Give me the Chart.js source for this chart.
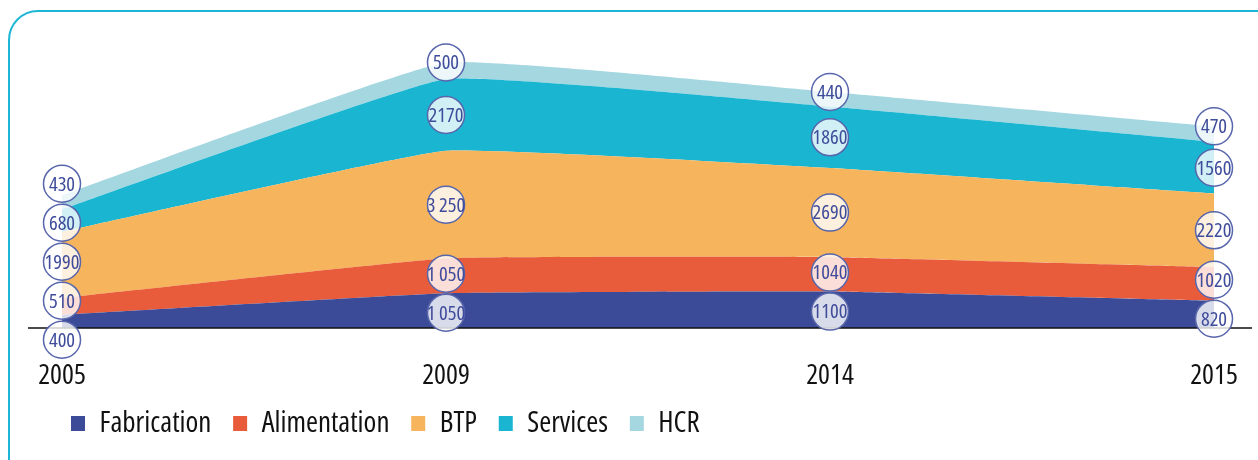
<!DOCTYPE html>
<html>
<head>
<meta charset="utf-8">
<script src="https://cdn.jsdelivr.net/npm/chart.js@4.4.1/dist/chart.umd.min.js"></script>
<style>
  html, body { margin: 0; padding: 0; background: #fff; overflow: hidden; }
  .frame {
    position: absolute;
    left: 8px; top: 10px;
    width: 1300px; height: 520px;
    border: 2px solid #1eb6d6;
    border-radius: 30px;
  }
  #chart { position: absolute; left: 0; top: 0; }
</style>
</head>
<body>
<div class="frame"></div>
<canvas id="chart" width="1258" height="460"></canvas>
<script>
const years = ['2005', '2009', '2014', '2015'];

const fabrication  = [400, 1050, 1100, 820];
const alimentation = [510, 1050, 1040, 1020];
const btp          = [1990, 3250, 2690, 2220];
const services     = [680, 2170, 1860, 1560];
const hcr          = [430, 500, 440, 470];

// labels as printed in the circles
const fabricationText  = ['400', '1\u2009050', '1100', '820'];
const alimentationText = ['510', '1\u2009050', '1040', '1020'];
const btpText          = ['1990', '3\u2009250', '2690', '2220'];
const servicesText     = ['680', '2170', '1860', '1560'];
const hcrText          = ['430', '500', '440', '470'];

// condensed Open Sans (stretch keyword rides in the weight slot of the font string)
const FONT = "'Open Sans', sans-serif";
const STRETCH = 'condensed';

const series = [
  { label: 'Fabrication',  data: fabrication,  text: fabricationText,  color: '#3c4b98' },
  { label: 'Alimentation', data: alimentation, text: alimentationText, color: '#e85c3b' },
  { label: 'BTP',          data: btp,          text: btpText,          color: '#f6b45c' },
  { label: 'Services',     data: services,     text: servicesText,     color: '#19b5d1' },
  { label: 'HCR',          data: hcr,          text: hcrText,          color: '#a5d7e1' }
];

// circled value labels, spread vertically so they don't overlap
const bubbleLabels = {
  id: 'bubbleLabels',
  afterDatasetsDraw(chart) {
    const ctx = chart.ctx;
    const y = chart.scales.y;
    const r = 18.5;
    const gap = 39;

    years.forEach((yr, i) => {
      const xPx = chart.scales.x.getPixelForValue(i);
      let acc = 0;
      const pos = series.map((s, k) => {
        const lo = acc;
        acc += s.data[i];
        // top layer label sits on the upper edge
        if (k === series.length - 1) return y.getPixelForValue(acc);
        return y.getPixelForValue((lo + acc) / 2);
      });

      for (let it = 0; it < 100; it++) {
        for (let k = 0; k < pos.length - 1; k++) {
          const d = pos[k] - pos[k + 1];
          if (d < gap) {
            const push = (gap - d) / 2;
            pos[k] += push;
            pos[k + 1] -= push;
          }
        }
      }

      series.forEach((s, k) => {
        ctx.save();
        ctx.beginPath();
        ctx.arc(xPx, pos[k], r, 0, Math.PI * 2);
        ctx.fillStyle = 'rgba(255,255,255,0.8)';
        ctx.fill();
        ctx.lineWidth = 1.5;
        ctx.strokeStyle = '#5866ac';
        ctx.stroke();
        ctx.fillStyle = '#3f4c9b';
        ctx.font = STRETCH + ' 20.5px ' + FONT;
        ctx.textAlign = 'center';
        ctx.textBaseline = 'middle';
        ctx.fillText(s.text[i], xPx, pos[k] + 1);
        ctx.restore();
      });
    });
  }
};

// black baseline running a bit past both ends
const baseline = {
  id: 'baseline',
  afterDatasetsDraw(chart) {
    const ctx = chart.ctx;
    const { left, right } = chart.chartArea;
    const yPx = chart.scales.y.getPixelForValue(0);
    ctx.save();
    ctx.beginPath();
    ctx.moveTo(left - 34, yPx);
    ctx.lineTo(right + 38, yPx);
    ctx.lineWidth = 1.5;
    ctx.strokeStyle = '#111';
    ctx.stroke();
    ctx.restore();
  }
};

const TICK_PAD = 31;

new Chart(document.getElementById('chart'), {
  type: 'line',
  data: {
    labels: years,
    datasets: series.map((s, k) => ({
      label: s.label,
      data: s.data,
      backgroundColor: s.color,
      borderColor: s.color,
      borderWidth: 0,
      pointRadius: 0,
      tension: 0.1,
      fill: k === 0 ? 'origin' : '-1'
    }))
  },
  options: {
    responsive: false,
    animation: false,
    layout: {
      padding: { left: 60, right: 44, top: 30, bottom: 12 }
    },
    scales: {
      x: {
        grid: { display: false, drawTicks: false },
        border: { display: false },
        afterFit(scale) {
          scale.paddingLeft = 0;
          scale.paddingRight = 0;
          // chart.js reserves the tick padding twice; keep it once
          scale.height = TICK_PAD + 39;
        },
        ticks: {
          color: '#111',
          padding: TICK_PAD,
          maxRotation: 0,
          autoSkip: false,
          font: { family: FONT, weight: STRETCH, size: 28 }
        }
      },
      y: {
        stacked: true,
        min: 0,
        max: 9000,
        grid: { display: false },
        border: { display: false },
        ticks: { display: false },
        afterFit(scale) {
          scale.width = 2;
        }
      }
    },
    plugins: {
      legend: {
        position: 'bottom',
        align: 'start',
        labels: {
          color: '#111',
          boxWidth: 14,
          boxHeight: 15,
          padding: 11,
          font: { family: FONT, weight: STRETCH, size: 29 },
          // trailing spaces widen the gap between legend entries
          generateLabels(chart) {
            return Chart.defaults.plugins.legend.labels.generateLabels(chart)
              .map(item => ({ ...item, text: item.text + '  ' }));
          }
        }
      },
      tooltip: { enabled: false }
    }
  },
  plugins: [baseline, bubbleLabels]
});
</script>
</body>
</html>
